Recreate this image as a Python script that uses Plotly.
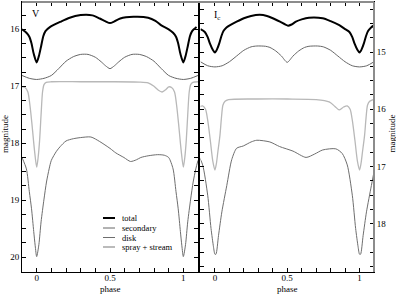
import numpy as np
import plotly.graph_objects as go

# ---------------- data (phase in [0,1), magnitudes) ----------------
# V band
v_total_ph = [0.0, 0.015, 0.03, 0.045, 0.06, 0.09, 0.16, 0.22, 0.3, 0.38, 0.43, 0.47, 0.5, 0.53, 0.57, 0.66, 0.76, 0.81, 0.85, 0.9, 0.93, 0.95, 0.965, 0.98]
v_total_mag = [16.58, 16.47, 16.30, 16.12, 16.03, 15.96, 15.87, 15.80, 15.75, 15.755, 15.81, 15.86, 15.89, 15.86, 15.81, 15.78, 15.795, 15.85, 15.93, 16.0, 16.06, 16.13, 16.25, 16.43]

v_sec_ph = [0.0, 0.05, 0.1, 0.15, 0.2, 0.25, 0.3, 0.35, 0.4, 0.44, 0.47, 0.5, 0.53, 0.56, 0.6, 0.65, 0.7, 0.75, 0.8, 0.85, 0.9, 0.95]
v_sec_mag = [16.88, 16.86, 16.81, 16.69, 16.56, 16.48, 16.44, 16.44, 16.49, 16.57, 16.64, 16.69, 16.64, 16.57, 16.49, 16.44, 16.44, 16.48, 16.56, 16.69, 16.81, 16.86]

v_spray_ph = [0.0, 0.01, 0.02, 0.03, 0.04, 0.05, 0.065, 0.1, 0.3, 0.5, 0.7, 0.76, 0.8, 0.83, 0.855, 0.88, 0.9, 0.92, 0.94, 0.955, 0.97, 0.985]
v_spray_mag = [18.42, 18.25, 17.95, 17.5, 17.1, 16.97, 16.93, 16.92, 16.92, 16.92, 16.925, 16.94, 17.0, 17.07, 17.10, 17.06, 17.01, 17.02, 17.1, 17.35, 17.72, 18.12]

v_disk_ph = [0.0, 0.015, 0.03, 0.05, 0.067, 0.085, 0.1, 0.135, 0.16, 0.2, 0.25, 0.3, 0.37, 0.43, 0.5, 0.54, 0.595, 0.64, 0.68, 0.71, 0.76, 0.825, 0.87, 0.9, 0.93, 0.95, 0.965, 0.98, 0.99]
v_disk_mag = [19.99, 19.78, 19.38, 18.98, 18.68, 18.45, 18.3, 18.14, 18.06, 17.96, 17.92, 17.90, 17.89, 17.97, 18.09, 18.17, 18.25, 18.32, 18.29, 18.25, 18.22, 18.20, 18.21, 18.25, 18.45, 18.85, 19.15, 19.55, 19.8]

# Ic band
i_total_ph = [0.0, 0.015, 0.03, 0.045, 0.06, 0.08, 0.105, 0.15, 0.2, 0.25, 0.31, 0.36, 0.4, 0.45, 0.505, 0.53, 0.56, 0.6, 0.65, 0.745, 0.8, 0.86, 0.9, 0.93, 0.95, 0.965, 0.985]
i_total_mag = [15.01, 14.95, 14.85, 14.72, 14.63, 14.57, 14.53, 14.47, 14.41, 14.37, 14.35, 14.37, 14.41, 14.47, 14.54, 14.52, 14.47, 14.43, 14.40, 14.41, 14.46, 14.53, 14.60, 14.65, 14.74, 14.85, 14.96]

i_sec_ph = [0.0, 0.05, 0.1, 0.15, 0.2, 0.25, 0.29, 0.35, 0.38, 0.42, 0.46, 0.5, 0.54, 0.58, 0.62, 0.65, 0.71, 0.75, 0.8, 0.85, 0.9, 0.95]
i_sec_mag = [15.26, 15.24, 15.17, 15.07, 14.97, 14.91, 14.895, 14.90, 14.92, 14.98, 15.07, 15.18, 15.07, 14.98, 14.92, 14.90, 14.895, 14.91, 14.97, 15.07, 15.17, 15.24]

i_spray_ph = [0.0, 0.01, 0.02, 0.035, 0.045, 0.055, 0.07, 0.094, 0.3, 0.5, 0.7, 0.79, 0.83, 0.858, 0.89, 0.915, 0.935, 0.95, 0.968, 0.985]
i_spray_mag = [17.06, 16.95, 16.75, 16.45, 16.15, 15.93, 15.86, 15.83, 15.82, 15.82, 15.83, 15.87, 15.95, 16.01, 15.96, 15.94, 16.0, 16.19, 16.54, 16.9]

i_disk_ph = [0.0, 0.007, 0.025, 0.048, 0.082, 0.116, 0.15, 0.196, 0.25, 0.29, 0.38, 0.447, 0.54, 0.63, 0.69, 0.745, 0.836, 0.88, 0.915, 0.95, 0.973, 0.99]
i_disk_mag = [18.53, 18.53, 18.2, 17.79, 17.33, 16.88, 16.68, 16.64, 16.57, 16.54, 16.57, 16.65, 16.73, 16.84, 16.78, 16.71, 16.69, 16.77, 16.97, 17.5, 18.08, 18.4]

legend_names = ["total", "secondary", "disk", "spray + stream"]
x_ticks = [0, 0.5, 1]
x_ticktext = ["0", "0.5", "1"]


def wrap(ph, mg):
    ph = np.asarray(ph, float)
    mg = np.asarray(mg, float)
    pre = ph >= 0.88
    post = ph <= 0.12
    x = np.concatenate([ph[pre] - 1, ph, ph[post] + 1])
    y = np.concatenate([mg[pre], mg, mg[post]])
    return x, y


styles = {
    "total": dict(color="black", width=2),
    "secondary": dict(color="#666666", width=1),
    "disk": dict(color="#6e6e6e", width=1),
    "spray + stream": dict(color="#b8b8b8", width=1.3),
}

fig = go.Figure()

panels = [
    ("x", "y", [(v_total_ph, v_total_mag, "total"), (v_sec_ph, v_sec_mag, "secondary"),
                (v_spray_ph, v_spray_mag, "spray + stream"), (v_disk_ph, v_disk_mag, "disk")]),
    ("x2", "y2", [(i_total_ph, i_total_mag, "total"), (i_sec_ph, i_sec_mag, "secondary"),
                  (i_spray_ph, i_spray_mag, "spray + stream"), (i_disk_ph, i_disk_mag, "disk")]),
]
for xa, ya, series in panels:
    for ph, mg, name in series:
        x, y = wrap(ph, mg)
        fig.add_trace(go.Scatter(x=x, y=y, mode="lines", name=name, showlegend=False,
                                 line=dict(shape="spline", smoothing=0.7, **styles[name]),
                                 xaxis=xa, yaxis=ya, hoverinfo="skip"))

FONT = "Liberation Serif"
W, H = 396, 294
ml, mr, mt, mb = 22, 22, 2, 22
pw, ph_ = W - ml - mr, H - mt - mb


def px_x(px):
    return (px - ml) / pw


def px_y(py):
    return (H - mb - py) / ph_


common_x = dict(range=[-0.1, 1.1], tickvals=x_ticks, ticktext=x_ticktext, ticks="inside", ticklen=4,
                tickcolor="black", showline=True, linecolor="black", linewidth=1, mirror="ticks",
                showgrid=False, zeroline=False, automargin=False, ticklabelstandoff=-3,
                minor=dict(dtick=0.1, tick0=0, ticks="inside", ticklen=4, tickcolor="black", showgrid=False),
                tickfont=dict(family=FONT, size=9, color="black"))
common_y = dict(ticks="inside", ticklen=4, tickcolor="black", dtick=1, showline=True, linecolor="black",
                linewidth=1, mirror="ticks", showgrid=False, zeroline=False, automargin=False,
                minor=dict(dtick=0.25, ticks="inside", ticklen=4, tickcolor="black", showgrid=False),
                tickfont=dict(family=FONT, size=9, color="black"))

fig.update_layout(
    width=W, height=H, margin=dict(l=ml, r=mr, t=mt, b=mb, autoexpand=False),
    paper_bgcolor="white", plot_bgcolor="white", showlegend=False, hovermode=False,
    xaxis=dict(domain=[0, 0.5], anchor="y", **common_x),
    xaxis2=dict(domain=[0.507, 1], anchor="y2", **common_x),
    yaxis=dict(range=[20.26, 15.52], anchor="x", side="left", **common_y),
    yaxis2=dict(range=[18.84, 14.127], anchor="x2", side="right", **common_y),
)

# gray frame edges (top and far right) as in the reference
fig.add_shape(type="line", xref="paper", yref="paper", x0=0, x1=1, y0=1, y1=1,
              line=dict(color="#8c8c8c", width=2), layer="above")
fig.add_shape(type="line", xref="paper", yref="paper", x0=1, x1=1, y0=0, y1=1,
              line=dict(color="#8c8c8c", width=2), layer="above")

tfont = dict(family=FONT, size=9, color="black")


def label(text, px, py, font, angle=0, xanchor="center"):
    fig.add_annotation(text=text, xref="paper", yref="paper", x=px_x(px), y=px_y(py),
                       xanchor=xanchor, yanchor="middle", showarrow=False, font=font, textangle=angle)


# axis titles
label("phase", 110, 288.5, tfont)
label("phase", 287, 288.5, tfont)
label("magnitude", 5, 134, tfont, angle=-90)
label("magnitude", 391.5, 134, tfont, angle=-90)

# panel labels
label("V", 36, 14, dict(family=FONT, size=10, color="black"))
label("I<sub>c</sub>", 217, 16, dict(family=FONT, size=10, color="black"))

# manual legend
rows_y = [218, 228, 237.5, 247]
for name, py in zip(legend_names, rows_y):
    yp = px_y(py)
    st = styles[name]
    fig.add_shape(type="line", xref="paper", yref="paper", x0=px_x(103), x1=px_x(115),
                  y0=yp, y1=yp, line=dict(color=st["color"], width=st["width"] + (0.6 if name == "spray + stream" else 0)))
    label(name, 120, py, dict(family=FONT, size=8.5, color="black"), xanchor="left")

fig.write_html("out.html", config={"displayModeBar": False, "staticPlot": True},
               post_script="document.body.style.margin='0px';document.body.style.padding='0px';")
